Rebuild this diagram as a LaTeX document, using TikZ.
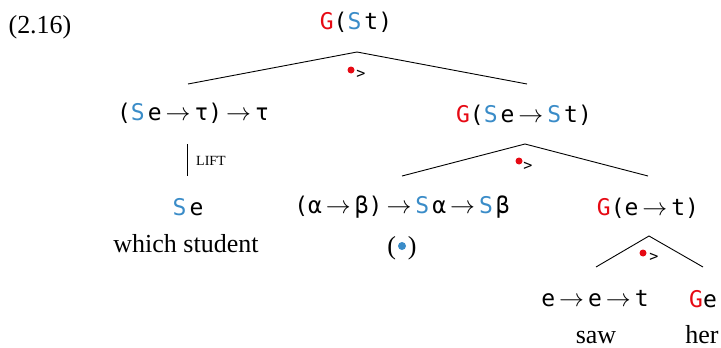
\documentclass[tikz,border=0pt]{standalone}
\usepackage{fontspec}
\setmainfont{Liberation Serif}
\newfontfamily\tyfont{DejaVu Sans Mono}
\definecolor{gred}{RGB}{230,10,20}
\definecolor{sblue}{RGB}{58,140,200}
\newcommand\tyG{\textcolor{gred}{G}}
\newcommand\tyS{\textcolor{sblue}{S}\kern3pt}
\newcommand\tyar{\kern4pt$\to$\kern4pt}
\tikzset{
  ty/.style={inner sep=0pt, font=\tyfont\fontsize{23}{27}\selectfont},
  rm/.style={inner sep=0pt, font=\rmfamily\fontsize{26}{30}\selectfont},
  branch/.style={line width=0.9pt},
  comp/.style={inner sep=0pt, font=\tyfont\fontsize{15}{17}\selectfont},
}
\begin{document}
\begin{tikzpicture}[x=1pt,y=-1pt]
\useasboundingbox (0,0) rectangle (721,348);
\node[rm, anchor=base] (eq) at (40,33) {(2.16)};
\node[ty] (root) at (356,22) {\tyG(\tyS t)};
\node[ty] (L1) at (193,113) {(\tyS e\tyar τ)\tyar τ};
\node[ty] (R1) at (524,115) {\tyG(\tyS e\tyar\tyS t)};
\node[ty] (Se) at (188,207) {\tyS e};
\node[rm, anchor=base] (ws) at (186,252) {which student};
\node[ty] (M2) at (402,207) {(α\tyar β)\tyar\tyS α\tyar\tyS β};
\node[rm, anchor=base] (bul) at (402,254) {(\kern12pt)};
\fill[sblue] (402,246) circle (4);
\node[ty] (R2) at (648,208) {\tyG(e\tyar t)};
\node[ty] (ee) at (595,299) {e\tyar e\tyar t};
\node[ty] (Ge) at (703,299) {\tyG e};
\node[rm, anchor=base] (saw) at (596,343) {saw};
\node[rm, anchor=base] (her) at (702,343) {her};
% branches
\coordinate (a1) at (357,52); \coordinate (l1) at (188,84); \coordinate (r1) at (527,84);
\coordinate (a2) at (525,144); \coordinate (l2) at (402,176); \coordinate (r2) at (648,176);
\coordinate (a3) at (649,236); \coordinate (l3) at (596,267); \coordinate (r3) at (703,267);
\draw[branch] (l1) -- (a1) -- (r1);
\draw[branch] (l2) -- (a2) -- (r2);
\draw[branch] (l3) -- (a3) -- (r3);
% composition markers
\fill[gred] (351,70) circle (3.5);
\node[comp] (c1) at (361,74) {>};
\fill[gred] (519,161) circle (3.5);
\node[comp] (c2) at (528,166) {>};
\fill[gred] (643,253) circle (3.5);
\node[comp] (c3) at (654,257) {>};
% lift
\coordinate (lt) at (187,144); \coordinate (lb) at (187,176);
\draw[branch] (lt) -- (lb);
\node[inner sep=0pt, font=\rmfamily\fontsize{14}{16}\selectfont, anchor=west] (lift) at (196,161) {LIFT};
\end{tikzpicture}
\end{document}
